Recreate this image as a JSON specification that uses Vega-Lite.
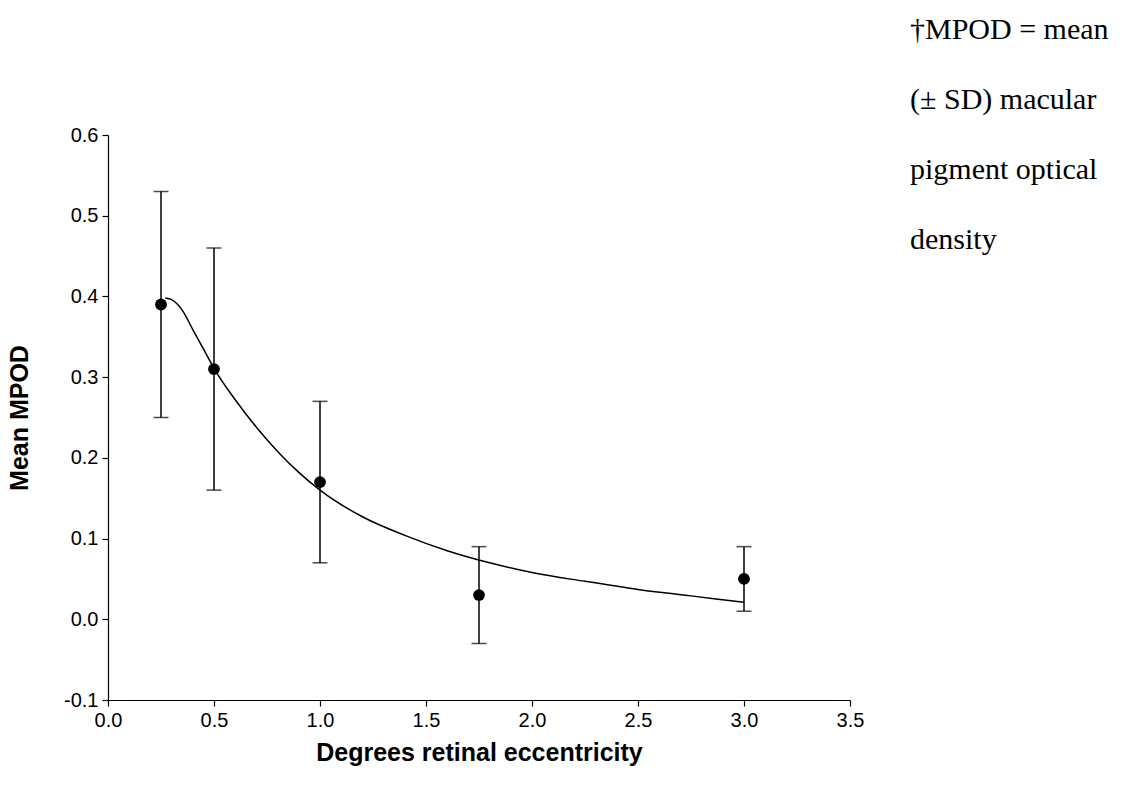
{
  "$schema": "https://vega.github.io/schema/vega-lite/v6.json",
  "width": 742,
  "height": 565,
  "autosize": "none",
  "padding": {"left": 108, "top": 135, "right": 287, "bottom": 96},
  "background": "white",
  "title": {
    "text": ["†MPOD = mean", "(± SD) macular", "pigment optical", "density"],
    "orient": "top",
    "anchor": "end",
    "frame": "group",
    "align": "left",
    "baseline": "top",
    "font": "Liberation Serif",
    "fontSize": 30,
    "fontWeight": "normal",
    "color": "black",
    "lineHeight": 70,
    "dx": 60,
    "dy": 134
  },
  "config": {
    "view": {"stroke": null},
    "axis": {
      "grid": false,
      "domainColor": "black",
      "domainWidth": 1.2,
      "tickColor": "black",
      "tickWidth": 1.2,
      "tickSize": 6,
      "labelFont": "Liberation Sans",
      "labelFontSize": 20,
      "labelColor": "black",
      "labelPadding": 4,
      "labelFlush": false,
      "titleFont": "Liberation Sans",
      "titleFontSize": 25,
      "titleFontWeight": "bold",
      "titleColor": "black"
    }
  },
  "datasets": {
    "points": [
      {"ecc": 0.25, "mpod": 0.39, "lo": 0.25, "hi": 0.53},
      {"ecc": 0.5, "mpod": 0.31, "lo": 0.16, "hi": 0.46},
      {"ecc": 1.0, "mpod": 0.17, "lo": 0.07, "hi": 0.27},
      {"ecc": 1.75, "mpod": 0.03, "lo": -0.03, "hi": 0.09},
      {"ecc": 3.0, "mpod": 0.05, "lo": 0.01, "hi": 0.09}
    ],
    "curve": [
      {"ecc": 0.27, "mpod": 0.398},
      {"ecc": 0.3, "mpod": 0.396},
      {"ecc": 0.35, "mpod": 0.383},
      {"ecc": 0.4, "mpod": 0.359},
      {"ecc": 0.45, "mpod": 0.335},
      {"ecc": 0.5, "mpod": 0.311},
      {"ecc": 0.6, "mpod": 0.272},
      {"ecc": 0.7, "mpod": 0.238},
      {"ecc": 0.8, "mpod": 0.208},
      {"ecc": 0.9, "mpod": 0.182},
      {"ecc": 1.0, "mpod": 0.16},
      {"ecc": 1.2, "mpod": 0.127},
      {"ecc": 1.4, "mpod": 0.104},
      {"ecc": 1.6, "mpod": 0.085},
      {"ecc": 1.8, "mpod": 0.07},
      {"ecc": 2.0, "mpod": 0.058},
      {"ecc": 2.25, "mpod": 0.047},
      {"ecc": 2.5, "mpod": 0.037},
      {"ecc": 2.75, "mpod": 0.029},
      {"ecc": 3.0, "mpod": 0.021}
    ]
  },
  "encoding": {
    "x": {
      "field": "ecc",
      "type": "quantitative",
      "scale": {"domain": [0, 3.5], "nice": false, "zero": false},
      "axis": {
        "title": "Degrees retinal eccentricity",
        "values": [0, 0.5, 1, 1.5, 2, 2.5, 3, 3.5],
        "format": ".1f",
        "titlePadding": 10
      }
    }
  },
  "layer": [
    {
      "data": {"name": "points"},
      "mark": {"type": "rule", "color": "black", "strokeWidth": 1.5},
      "encoding": {
        "y": {
          "field": "lo",
          "type": "quantitative",
          "scale": {"domain": [-0.1, 0.6], "nice": false, "zero": false},
          "axis": {
            "title": "Mean MPOD",
            "values": [-0.1, 0, 0.1, 0.2, 0.3, 0.4, 0.5, 0.6],
            "format": ".1f",
            "labelExpr": "replace(datum.label, '\u2212', '-')",
            "titlePadding": 31
          }
        },
        "y2": {"field": "hi"}
      }
    },
    {
      "data": {"name": "points"},
      "mark": {"type": "tick", "orient": "horizontal", "color": "black", "size": 15, "thickness": 1.5},
      "encoding": {"y": {"field": "lo", "type": "quantitative"}}
    },
    {
      "data": {"name": "points"},
      "mark": {"type": "tick", "orient": "horizontal", "color": "black", "size": 15, "thickness": 1.5},
      "encoding": {"y": {"field": "hi", "type": "quantitative"}}
    },
    {
      "data": {"name": "curve"},
      "mark": {"type": "line", "color": "black", "strokeWidth": 1.5, "interpolate": "monotone"},
      "encoding": {"y": {"field": "mpod", "type": "quantitative"}}
    },
    {
      "data": {"name": "points"},
      "mark": {"type": "point", "filled": true, "color": "black", "opacity": 1, "size": 140, "shape": "circle"},
      "encoding": {"y": {"field": "mpod", "type": "quantitative"}}
    }
  ]
}
